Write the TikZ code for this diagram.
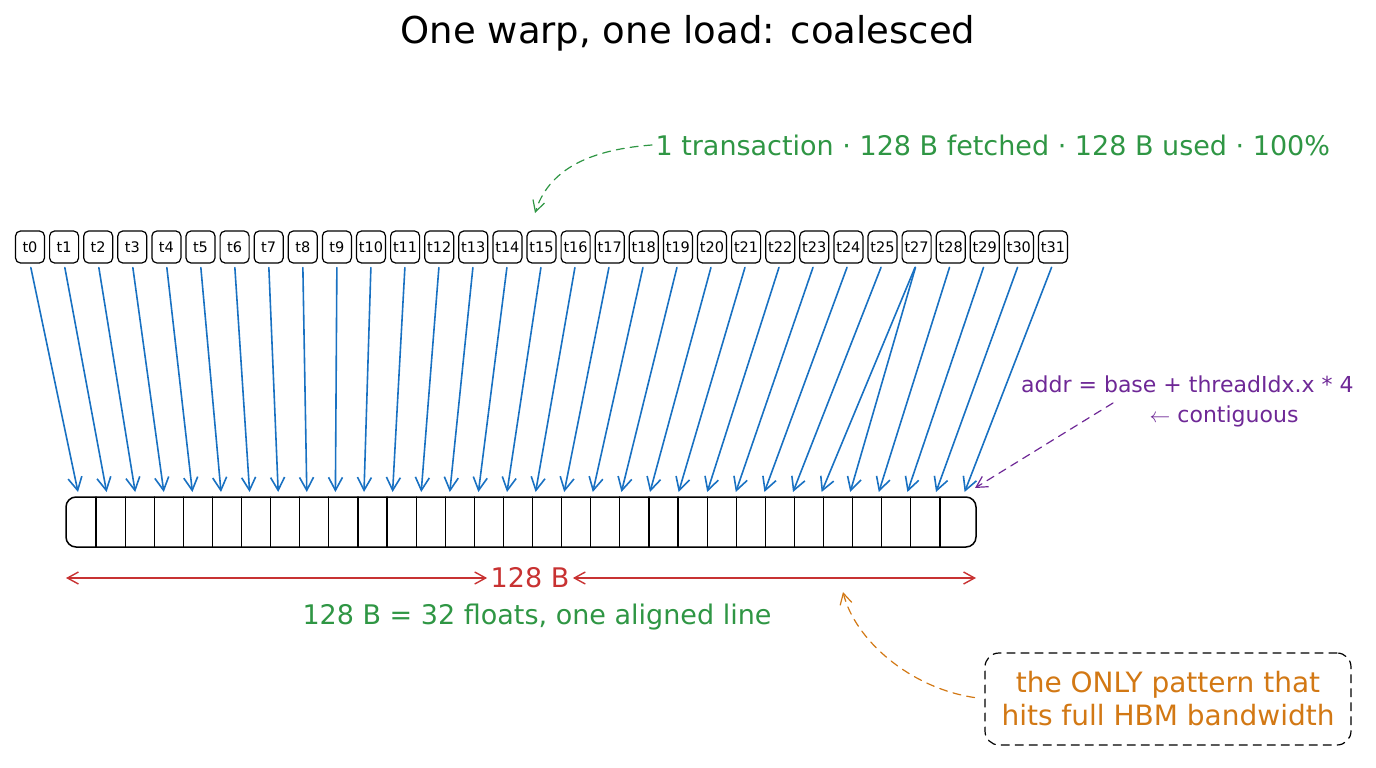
\documentclass[tikz,border=0pt]{standalone}
\usepackage{fontspec}
\setmainfont{DejaVu Sans}
\usetikzlibrary{arrows.meta,positioning}
\definecolor{cThread}{RGB}{25,113,194}
\definecolor{cGreen}{RGB}{47,150,68}
\definecolor{cRed}{RGB}{200,50,50}
\definecolor{cPurple}{RGB}{110,40,150}
\definecolor{cOrange}{RGB}{210,120,20}

\begin{document}
\begin{tikzpicture}[x=1pt, y=-1pt, node distance=3.9pt, line cap=round,
      thread/.style={rectangle, rounded corners=5pt, draw=black, line width=1.2pt,
                     minimum width=29pt, minimum height=32pt, inner sep=0pt,
                     font=\fontsize{14.5}{16}\selectfont},
      fetch/.style={draw=cThread, line width=1.6pt, shorten <=4pt,
                    -{Straight Barb[length=13pt,width=14pt]}},
      hint/.style={line width=1.2pt, dash pattern=on 8pt off 6pt,
                   -{Straight Barb[length=11pt,width=12pt]}},
      note/.style={font=\fontsize{27}{32}\selectfont}]
    \useasboundingbox (0,0) rectangle (1376,768);
    \node[font=\fontsize{37}{44}\selectfont] (title) at (688,33) {One warp, one load: coalesced};

    % one chip per thread
    \node[thread] (th0) at (30,247) {t0};
    \foreach \t [count=\i from 1, remember=\i as \j (initially 0)] in {1,...,25,27,28,29,30,31}
      \node[thread, right=of th\j] (th\i) {t\t};

    % the 128 B line
    \node[draw, line width=1.5pt, rounded corners=10pt, minimum width=910pt,
          minimum height=50pt] (bar) at (521,522) {};
    \foreach \k in {0,...,29}
      \draw[line width=1.2pt] (96+29.1*\k,497) -- (96+29.1*\k,547);
    \foreach \c in {0,...,31}
      \coordinate (c\c) at (78+28.6*\c,492);

    \foreach \t [count=\i from 0] in {0,...,25,27,28,29,30,31}
      \draw[fetch] (th\i.south) -- (c\t);
    \draw[fetch] (th26.south) -- (c26);

    % size
    \node[note, text=cRed] (size) at (530,578) {128 B};
    \coordinate (lend) at (66,578);
    \coordinate (rend) at (976,578);
    \draw[cRed, line width=1.4pt, {Straight Barb[length=11pt,width=12pt]}-{Straight Barb[length=11pt,width=12pt]}]
      (lend) -- (size.west);
    \draw[cRed, line width=1.4pt, {Straight Barb[length=11pt,width=12pt]}-{Straight Barb[length=11pt,width=12pt]}]
      (size.east) -- (rend);
    \node[note, text=cGreen] (cap) at (537,617) {128 B = 32 floats, one aligned line};

    % header
    \node[note, text=cGreen, anchor=west] (hdr) at (652,145)
      {1 transaction · 128 B fetched · 128 B used · 100\%};
    \coordinate (hdrtip) at (535,213);
    \draw[hint, cGreen] (hdr.west) .. controls (585,150) and (548,172) .. (hdrtip);

    % address
    \node[text=cPurple, anchor=east, font=\fontsize{22}{26}\selectfont] (addr) at (1357,384)
      {addr = base + threadIdx.x * 4};
    \node[text=cPurple, anchor=east, font=\fontsize{22}{26}\selectfont] (contig) at (1302,416)
      {$\leftarrow$ contiguous};
    \coordinate (addrtail) at (1113,403);
    \coordinate (barend) at (975,488);
    \draw[hint, cPurple] (addrtail) -- (barend);

    % callout
    \node[draw, line width=1.2pt, dash pattern=on 8pt off 6pt, rounded corners=14pt,
          text=cOrange, align=center, minimum width=366pt, minimum height=92pt,
          inner sep=2pt, font=\fontsize{28}{33}\selectfont] (hbm) at (1168,699)
      {the ONLY pattern that\\hits full HBM bandwidth};
    \coordinate (hbmtip) at (843,592);
    \draw[hint, cOrange, shorten <=10pt] (hbm.west) .. controls (910,688) and (855,640) .. (hbmtip);
  \end{tikzpicture}
\end{document}
